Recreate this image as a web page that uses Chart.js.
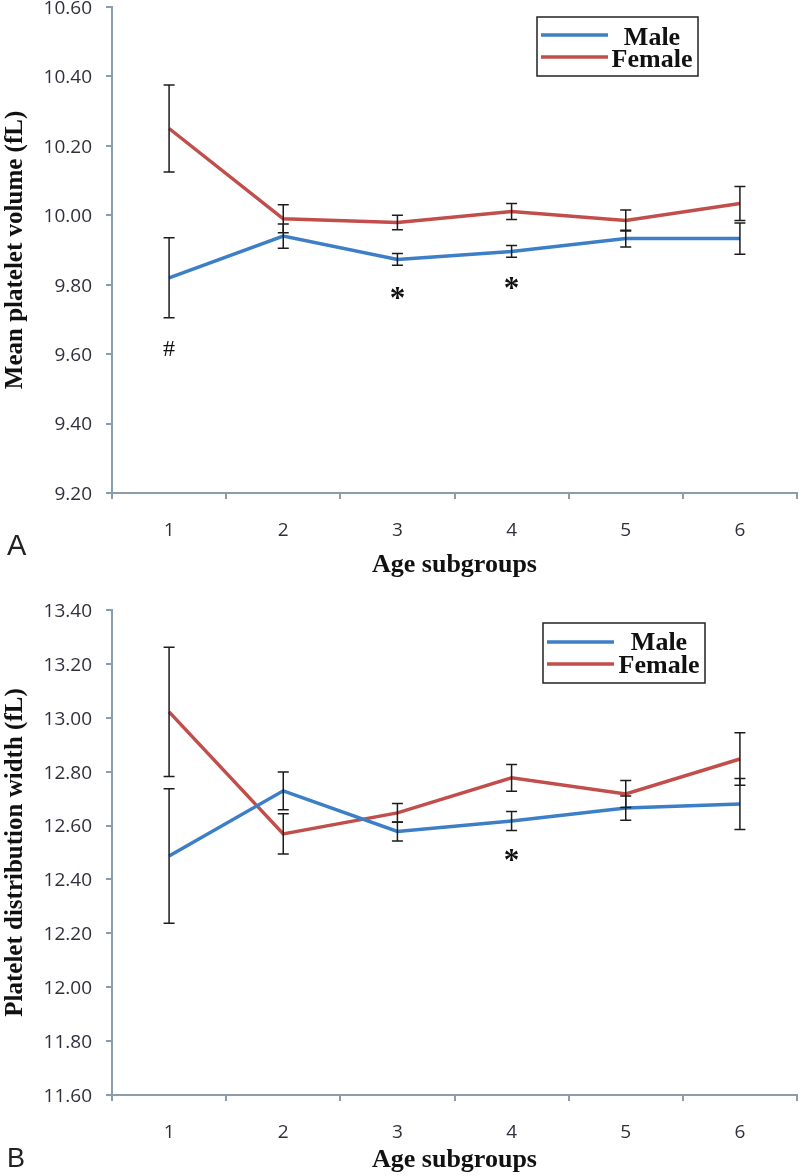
<!DOCTYPE html>
<html><head><meta charset="utf-8">
<script src="https://cdn.jsdelivr.net/npm/chart.js@4.4.1/dist/chart.umd.min.js"></script>
<style>
html,body{margin:0;padding:0;background:#fff;}
#wrap{width:800px;height:1176px;position:relative;background:#fff;}
.c{position:absolute;left:0;width:800px;}
</style></head><body>
<div id="wrap">
<div class="c" style="top:0;height:590px"><canvas id="cA"></canvas></div>
<div class="c" style="top:590px;height:586px"><canvas id="cB"></canvas></div>
</div>
<script>
// ---------- DATA ----------
const categories = ['1','2','3','4','5','6'];
const seriesNames = ['Male','Female'];

// Panel A: Mean platelet volume (fL)
const mpvMale = [9.82, 9.94, 9.873, 9.896, 9.933, 9.933];
const mpvMaleErr = [0.115, 0.035, 0.017, 0.017, 0.024, 0.045];
const mpvFemale = [10.25, 9.99, 9.979, 10.011, 9.985, 10.034];
const mpvFemaleErr = [0.125, 0.04, 0.021, 0.023, 0.03, 0.049];
const mpvTicks = ['9.20','9.40','9.60','9.80','10.00','10.20','10.40','10.60'];
const mpvMarkCats = ['1','3','4'];
const mpvMarkValues = [9.617, 9.775, 9.804];
const mpvMarkTexts = ['#','*','*'];

// Panel B: Platelet distribution width (fL)
const pdwMale = [12.487, 12.729, 12.578, 12.617, 12.665, 12.68];
const pdwMaleErr = [0.25, 0.07, 0.035, 0.035, 0.045, 0.095];
const pdwFemale = [13.022, 12.569, 12.647, 12.777, 12.717, 12.847];
const pdwFemaleErr = [0.24, 0.075, 0.035, 0.05, 0.05, 0.097];
const pdwTicks = ['11.60','11.80','12.00','12.20','12.40','12.60','12.80','13.00','13.20','13.40'];
const pdwMarkCats = ['4'];
const pdwMarkValues = [12.491];
const pdwMarkTexts = ['*'];

// ---------- STYLE ----------
const maleColor = '#3c7fc6';
const femaleColor = '#c24e4b';
const axisColor = '#8d9cab';
const tickColor = '#30303c';
const serif = 'Liberation Serif';

const errorBarPlugin = {
  id: 'errorBars',
  afterDatasetsDraw(chart, args, opts) {
    const {ctx} = chart;
    const y = chart.scales.y;
    ctx.save();
    ctx.strokeStyle = opts.color;
    ctx.lineWidth = opts.width;
    chart.data.datasets.forEach((ds, i) => {
      const meta = chart.getDatasetMeta(i);
      ds.errors.forEach((e, j) => {
        const px = meta.data[j].x;
        const t = y.getPixelForValue(ds.data[j] + e);
        const b = y.getPixelForValue(ds.data[j] - e);
        ctx.beginPath();
        ctx.moveTo(px, t); ctx.lineTo(px, b);
        ctx.moveTo(px - opts.cap, t); ctx.lineTo(px + opts.cap, t);
        ctx.moveTo(px - opts.cap, b); ctx.lineTo(px + opts.cap, b);
        ctx.stroke();
      });
    });
    ctx.restore();
  }
};

const marksPlugin = {
  id: 'marks',
  afterDatasetsDraw(chart, args, opts) {
    const {ctx} = chart;
    const x = chart.scales.x, y = chart.scales.y;
    ctx.save();
    ctx.fillStyle = '#111';
    ctx.textAlign = 'center';
    ctx.textBaseline = 'alphabetic';
    opts.cats.forEach((c, i) => {
      const txt = opts.texts[i];
      ctx.font = txt === '#' ? opts.hashFont : opts.starFont;
      const m = ctx.measureText(txt);
      const px = x.getPixelForValue(categories.indexOf(c));
      const py = y.getPixelForValue(opts.values[i]);
      const off = (m.actualBoundingBoxAscent - m.actualBoundingBoxDescent) / 2;
      ctx.fillText(txt, px, py + off);
    });
    ctx.restore();
  }
};

const boxLegendPlugin = {
  id: 'boxLegend',
  afterDraw(chart, args, o) {
    const {ctx} = chart;
    ctx.save();
    ctx.strokeStyle = '#222';
    ctx.lineWidth = 1.5;
    ctx.strokeRect(o.x, o.y, o.w, o.h);
    chart.data.datasets.forEach((ds, i) => {
      const ly = o.lineY[i];
      ctx.strokeStyle = ds.borderColor;
      ctx.lineWidth = 3.5;
      ctx.beginPath();
      ctx.moveTo(o.lineX0, ly); ctx.lineTo(o.lineX1, ly);
      ctx.stroke();
      ctx.fillStyle = '#111';
      ctx.font = o.font;
      ctx.textAlign = 'center';
      ctx.textBaseline = 'alphabetic';
      ctx.fillText(ds.label, o.textX, o.textY[i]);
    });
    ctx.restore();
  }
};

const panelLetterPlugin = {
  id: 'panelLetter',
  afterDraw(chart, args, o) {
    const {ctx} = chart;
    ctx.save();
    ctx.fillStyle = '#222';
    ctx.font = o.font;
    ctx.textAlign = 'left';
    ctx.textBaseline = 'alphabetic';
    ctx.fillText(o.text, o.x, o.y);
    ctx.restore();
  }
};

function makeChart(id, cfg) {
  return new Chart(document.getElementById(id), {
    type: 'line',
    data: {
      labels: categories,
      datasets: [
        {label: seriesNames[0], data: cfg.male, errors: cfg.maleErr, borderColor: maleColor, backgroundColor: maleColor, borderWidth: 3.5, pointRadius: 0, tension: 0, fill: false},
        {label: seriesNames[1], data: cfg.female, errors: cfg.femaleErr, borderColor: femaleColor, backgroundColor: femaleColor, borderWidth: 3.5, pointRadius: 0, tension: 0, fill: false}
      ]
    },
    options: {
      responsive: true,
      maintainAspectRatio: false,
      animation: false,
      layout: {autoPadding: false, padding: {top: cfg.padTop, right: 3, left: 0, bottom: 0}},
      plugins: {
        legend: {display: false},
        tooltip: {enabled: false},
        errorBars: {color: '#1c1c1c', width: 1.5, cap: 5.5},
        marks: {cats: cfg.markCats, values: cfg.markValues, texts: cfg.markTexts, starFont: 'bold 31px ' + serif, hashFont: '24px ' + serif},
        boxLegend: cfg.legend,
        panelLetter: cfg.letter
      },
      scales: {
        x: {
          type: 'category',
          offset: true,
          grid: {display: true, offset: true, drawOnChartArea: false, drawTicks: true, tickLength: 6, color: axisColor, lineWidth: 2},
          border: {display: true, color: axisColor, width: 2},
          ticks: {color: tickColor, font: {family: 'Open Sans', size: 19}, padding: 20, maxRotation: 0},
          title: {display: true, text: 'Age subgroups', color: '#111', font: {family: serif, size: 26, weight: 'bold'}, padding: {top: 0, bottom: cfg.xTitlePad}},
          afterFit(s) { s.height = cfg.xHeight; s.paddingLeft = 0; s.paddingRight = 0; }
        },
        y: {
          min: parseFloat(cfg.ticks[0]),
          max: parseFloat(cfg.ticks[cfg.ticks.length - 1]),
          afterBuildTicks(s) { s.ticks = cfg.ticks.map(t => ({value: parseFloat(t)})); },
          grid: {display: true, drawOnChartArea: false, drawTicks: true, tickLength: 6, color: axisColor, lineWidth: 2},
          border: {display: true, color: axisColor, width: 2},
          ticks: {color: tickColor, font: {family: 'Open Sans', size: 19}, padding: 14, labelOffset: 1.5, callback: (v, i) => cfg.ticks[i]},
          title: {display: true, text: cfg.yTitle, color: '#111', font: {family: serif, size: 25, weight: 'bold'}, padding: {top: 1, bottom: 0}},
          afterFit(s) { s.width = 112; s.paddingTop = 0; s.paddingBottom = 0; }
        }
      }
    },
    plugins: [errorBarPlugin, marksPlugin, boxLegendPlugin, panelLetterPlugin]
  });
}

makeChart('cA', {
  male: mpvMale, maleErr: mpvMaleErr, female: mpvFemale, femaleErr: mpvFemaleErr,
  ticks: mpvTicks, markCats: mpvMarkCats, markValues: mpvMarkValues, markTexts: mpvMarkTexts,
  yTitle: 'Mean platelet volume (fL)', padTop: 7, xHeight: 97, xTitlePad: 9,
  legend: {x: 537, y: 17, w: 161, h: 59, lineX0: 541, lineX1: 608, lineY: [35, 57], textX: 652, textY: [45, 67], font: 'bold 26px ' + serif},
  letter: {text: 'A', x: 7, y: 555, font: '29px Liberation Sans'}
});

makeChart('cB', {
  male: pdwMale, maleErr: pdwMaleErr, female: pdwFemale, femaleErr: pdwFemaleErr,
  ticks: pdwTicks, markCats: pdwMarkCats, markValues: pdwMarkValues, markTexts: pdwMarkTexts,
  yTitle: 'Platelet distribution width (fL)', padTop: 20, xHeight: 81, xTitlePad: 0,
  legend: {x: 543, y: 33, w: 162, h: 60, lineX0: 547, lineX1: 614, lineY: [52, 74], textX: 659, textY: [60, 83], font: 'bold 26px ' + serif},
  letter: {text: 'B', x: 7, y: 577, font: '27px Liberation Sans'}
});
</script>
</body></html>
